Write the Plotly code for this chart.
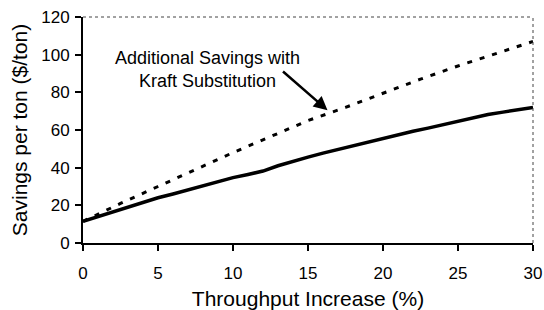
import plotly.graph_objects as go

# Throughput increase (%)
x_base = [0, 1, 2, 3, 4, 5, 6, 7, 8, 9, 10, 11, 12, 13, 14, 15, 16, 17, 18, 19, 20,
          21, 22, 23, 24, 25, 26, 27, 28, 29, 30]
# Savings per ton ($/ton), solid line
savings_base = [11.5, 14, 16.5, 19, 21.5, 24, 26, 28.2, 30.2, 32.3, 34.7, 36.4, 38.2, 41,
                43.4, 45.6, 47.7, 49.7, 51.7, 53.6, 55.5, 57.4, 59.3, 61, 62.8, 64.4,
                66.2, 68.2, 69.5, 70.8, 72]

# Savings with Kraft substitution (dashed line)
x_kraft = [0, 2.5, 5, 7.5, 10, 12.5, 15, 17.5, 20, 22.5, 25, 27.5, 30]
savings_kraft = [11.5, 21, 30, 39, 48, 56.5, 65, 72, 79.5, 87, 94, 100.5, 107]

x_ticks = [0, 5, 10, 15, 20, 25, 30]
y_ticks = [0, 20, 40, 60, 80, 100, 120]

FONT = "Liberation Sans, Arial, sans-serif"

fig = go.Figure()
fig.add_trace(go.Scatter(x=x_kraft, y=savings_kraft, mode="lines",
                         line=dict(color="black", width=3, dash="5px,8px"),
                         showlegend=False, hoverinfo="skip"))
fig.add_trace(go.Scatter(x=x_base, y=savings_base, mode="lines",
                         line=dict(color="black", width=3.5),
                         showlegend=False, hoverinfo="skip"))

fig.update_layout(
    width=544, height=310,
    margin=dict(l=83, r=11, t=17, b=67),
    paper_bgcolor="white", plot_bgcolor="white",
    font=dict(family=FONT, color="black", size=17),
    xaxis=dict(range=[0, 30], tickvals=x_ticks, showgrid=False, zeroline=False,
               automargin=False, ticklabeloverflow="allow",
               showline=True, linecolor="black", linewidth=2,
               ticks="outside", ticklen=6, tickwidth=1.5, tickcolor="black",
               tickfont=dict(size=17), ticklabelstandoff=8,
               title=dict(text="Throughput Increase (%)", font=dict(size=21), standoff=11)),
    yaxis=dict(range=[0, 120], tickvals=y_ticks, showgrid=False, zeroline=False,
               automargin=False, ticklabeloverflow="allow",
               showline=True, linecolor="black", linewidth=2,
               ticks="outside", ticklen=6, tickwidth=1.5, tickcolor="black",
               tickfont=dict(size=17), ticklabelstandoff=2,
               title=dict(text="Savings per ton ($/ton)", font=dict(size=21), standoff=8)),
    shapes=[
        dict(type="line", xref="paper", yref="paper", x0=0, x1=1, y0=1, y1=1,
             line=dict(color="#444", width=1, dash="dot")),
        dict(type="line", xref="paper", yref="paper", x0=1, x1=1, y0=0, y1=1,
             line=dict(color="#444", width=1, dash="dot")),
    ],
    annotations=[
        dict(x=8.27, y=92.2, xref="x", yref="y", showarrow=False,
             text="Additional Savings with<br>Kraft Substitution",
             xanchor="center", yanchor="middle",
             font=dict(size=18, family=FONT, color="black")),
        dict(x=16.3, y=70.5, xref="x", yref="y", ax=-46, ay=-40, text="",
             showarrow=True, arrowhead=2, arrowsize=1.1, arrowwidth=2.5,
             arrowcolor="black", standoff=0, startstandoff=0),
    ],
)

fig.write_html("out.html",
               config={"displayModeBar": False},
               post_script="document.body.style.margin='0';document.body.style.overflow='hidden';")
